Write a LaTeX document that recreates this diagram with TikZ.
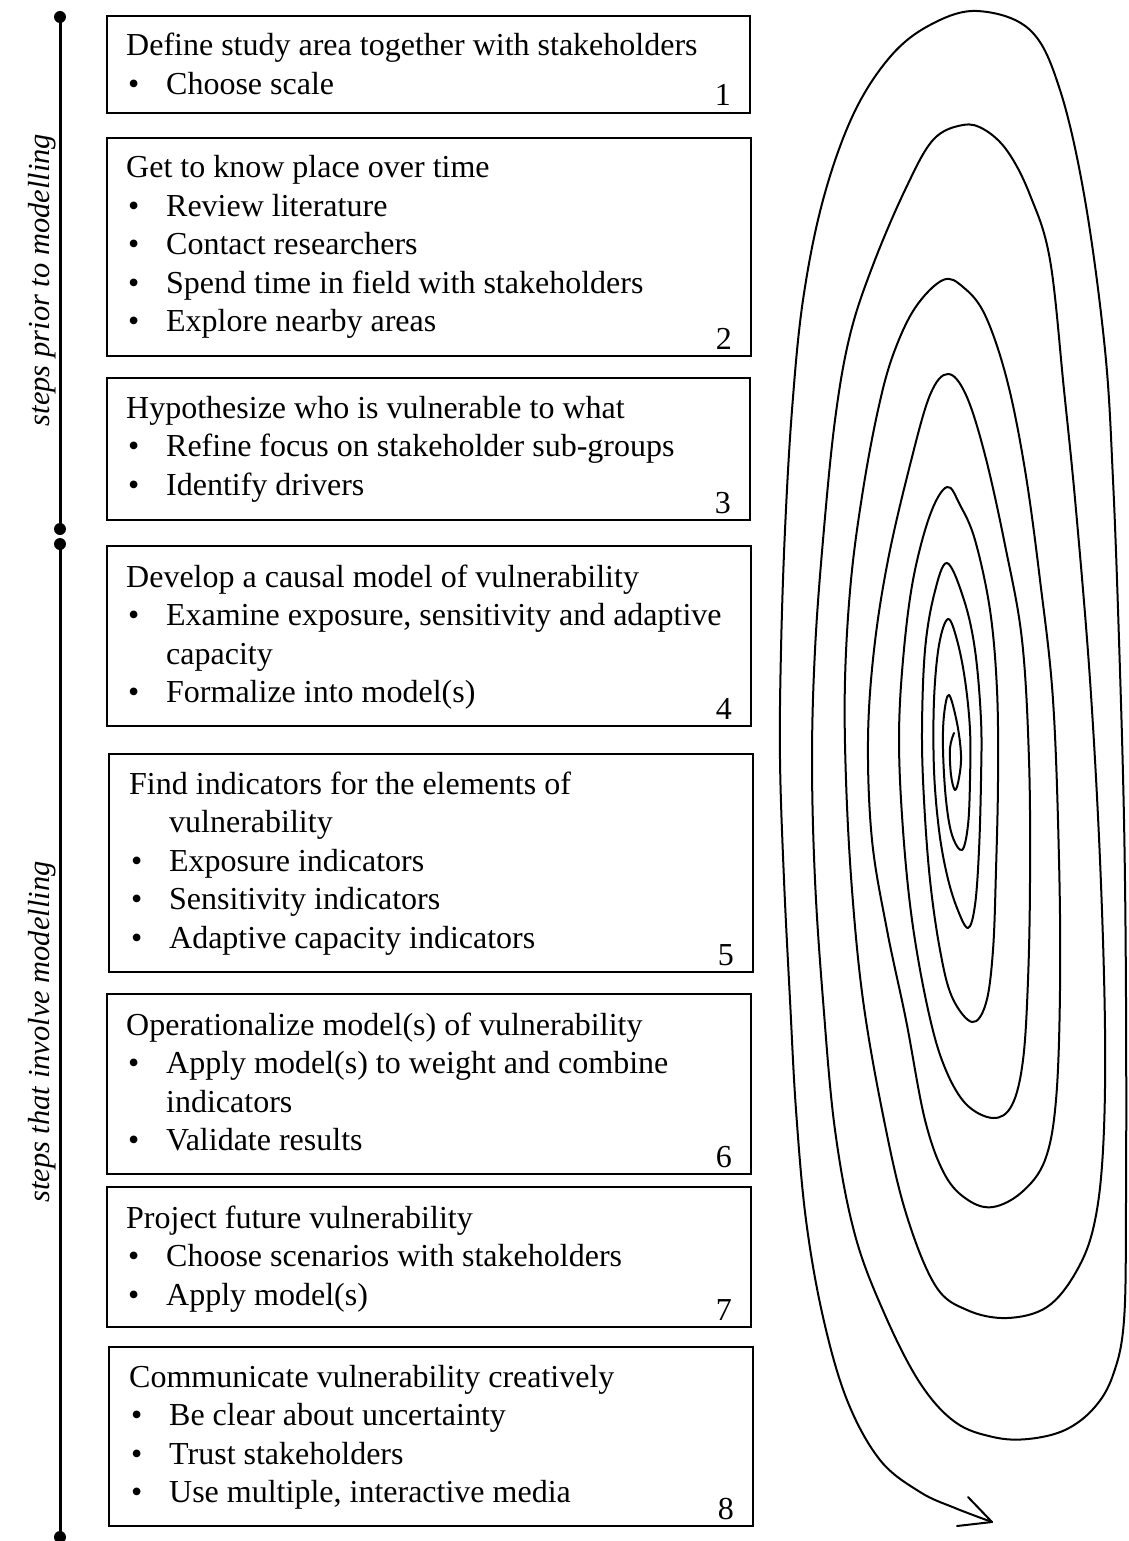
\documentclass[tikz,border=0pt]{standalone}
\usepackage{fontspec}
\setmainfont{Liberation Serif}
\newcommand\Ttl[1]{\par\noindent#1}
\newcommand\Itm[1]{\par\noindent\makebox[40pt][l]{\hspace{2pt}\textbullet}#1}
\newcommand\Cnt[1]{\par\noindent\hspace*{40pt}#1}
\newcommand\Lines[1]{\vtop{\hsize=640pt\parindent=0pt\parskip=0pt\fontsize{32}{38.5}\selectfont\rightskip=0pt plus 1fil #1}}
\begin{document}
\begin{tikzpicture}[x=1pt,y=-1pt,
  font=\fontsize{32}{38.5}\selectfont,
  stepbox/.style={draw, line width=2pt, rectangle, inner sep=0pt, anchor=north west},
  boxtxt/.style={anchor=base west, inner sep=0pt},
  num/.style={anchor=base east, inner sep=0pt},
  side/.style={rotate=90, anchor=base, inner sep=0pt, font=\fontsize{30.5}{36}\selectfont\itshape},
  dot/.style={circle, fill, inner sep=0pt, minimum size=12pt},
  spiral/.style={line width=2pt, line join=round, line cap=round},
  tline/.style={line width=3pt}]
\useasboundingbox (0,0) rectangle (1128,1541);

% timeline
\node[dot] (d1) at (60,17) {};
\node[dot] (d2) at (60,529) {};
\node[dot] (d3) at (60,544) {};
\node[dot] (d4) at (60,1537) {};
\draw[tline] (d1.center) -- (d2.center);
\draw[tline] (d3.center) -- (d4.center);
\node[side] (s1) at (49,280) {steps prior to modelling};
\node[side] (s2) at (49,1032) {steps that involve modelling};

% boxes
\node[stepbox, minimum width=643pt, minimum height=97pt] (b1) at (106,15) {};
\node[stepbox, minimum width=644pt, minimum height=218pt] (b2) at (106,137) {};
\node[stepbox, minimum width=643pt, minimum height=142pt] (b3) at (106,377) {};
\node[stepbox, minimum width=644pt, minimum height=180pt] (b4) at (106,545) {};
\node[stepbox, minimum width=644pt, minimum height=218pt] (b5) at (108,753) {};
\node[stepbox, minimum width=644pt, minimum height=180pt] (b6) at (106,993) {};
\node[stepbox, minimum width=644pt, minimum height=140pt] (b7) at (106,1186) {};
\node[stepbox, minimum width=644pt, minimum height=179pt] (b8) at (108,1346) {};

\node[boxtxt] (t1) at ([xshift=20pt,yshift=-41pt]b1.north west) {\Lines{%
  \Ttl{Define study area together with stakeholders}\Itm{Choose scale}}};
\node[boxtxt] (t2) at ([xshift=20pt,yshift=-41pt]b2.north west) {\Lines{%
  \Ttl{Get to know place over time}\Itm{Review literature}\Itm{Contact researchers}%
  \Itm{Spend time in field with stakeholders}\Itm{Explore nearby areas}}};
\node[boxtxt] (t3) at ([xshift=20pt,yshift=-41pt]b3.north west) {\Lines{%
  \Ttl{Hypothesize who is vulnerable to what}\Itm{Refine focus on stakeholder sub-groups}%
  \Itm{Identify drivers}}};
\node[boxtxt] (t4) at ([xshift=20pt,yshift=-42pt]b4.north west) {\Lines{%
  \Ttl{Develop a causal model of vulnerability}\Itm{Examine exposure, sensitivity and adaptive}%
  \Cnt{capacity}\Itm{Formalize into model(s)}}};
\node[boxtxt] (t5) at ([xshift=21pt,yshift=-41pt]b5.north west) {\Lines{%
  \Ttl{Find indicators for the elements of}\Cnt{vulnerability}\Itm{Exposure indicators}%
  \Itm{Sensitivity indicators}\Itm{Adaptive capacity indicators}}};
\node[boxtxt] (t6) at ([xshift=20pt,yshift=-42pt]b6.north west) {\Lines{%
  \Ttl{Operationalize model(s) of vulnerability}\Itm{Apply model(s) to weight and combine}%
  \Cnt{indicators}\Itm{Validate results}}};
\node[boxtxt] (t7) at ([xshift=20pt,yshift=-42pt]b7.north west) {\Lines{%
  \Ttl{Project future vulnerability}\Itm{Choose scenarios with stakeholders}\Itm{Apply model(s)}}};
\node[boxtxt] (t8) at ([xshift=21pt,yshift=-41pt]b8.north west) {\Lines{%
  \Ttl{Communicate vulnerability creatively}\Itm{Be clear about uncertainty}%
  \Itm{Trust stakeholders}\Itm{Use multiple, interactive media}}};

\node[num] (n1) at ([xshift=-20pt,yshift=8pt]b1.south east) {1};
\node[num] (n2) at ([xshift=-20pt,yshift=8pt]b2.south east) {2};
\node[num] (n3) at ([xshift=-20pt,yshift=8pt]b3.south east) {3};
\node[num] (n4) at ([xshift=-20pt,yshift=8pt]b4.south east) {4};
\node[num] (n5) at ([xshift=-20pt,yshift=8pt]b5.south east) {5};
\node[num] (n6) at ([xshift=-20pt,yshift=8pt]b6.south east) {6};
\node[num] (n7) at ([xshift=-20pt,yshift=8pt]b7.south east) {7};
\node[num] (n8) at ([xshift=-20pt,yshift=8pt]b8.south east) {8};

% spiral
\coordinate (tip) at (992,1522);
\coordinate (barbA) at (968,1497);
\coordinate (barbB) at (957,1526);
\draw[spiral] plot[smooth, tension=0.6] coordinates {
 (954,733) (950,748) (951,775) (955,790)
 (959,778) (961,755) (957,723) (949,695)
 (944,715) (943,750) (946,800) (952,835) (962,850)
 (968,825) (970,780) (970,730) (965,680) (957,640) (948,619)
 (939,645) (934,700) (934,770) (939,830) (947,875) (957,908) (968,928)
 (975,905) (979,850) (981,780) (981,720) (975,650) (964,600) (947,563)
 (934,595) (925,650) (922,730) (924,800) (930,880) (940,950) (952,997) (972,1022)
 (986,1003) (993,950) (996,870) (998,780) (997,690) (990,610) (975,540) (960,505) (947,487)
 (930,515) (913,580) (903,660) (899,740) (903,830) (912,920) (927,1005) (943,1063) (965,1103) (993,1118)
 (1012,1105) (1023,1060) (1028,980) (1030,880) (1029,760) (1022,640) (1005,545) (985,455) (966,395) (948,374)
 (930,395) (910,465) (888,560) (874,650) (868,740) (872,840) (887,930) (906,1020) (925,1120) (945,1175) (968,1200) (993,1207)
 (1022,1192) (1045,1160) (1056,1100) (1060,990) (1059,860) (1053,700) (1040,580) (1025,470) (1007,380) (985,315) (963,287) (943,280)
 (915,308) (893,355) (878,410) (863,490) (851,580) (845,680) (846,780) (852,890) (863,1000) (882,1110) (905,1210) (935,1285) (967,1310) (1007,1318)
 (1047,1307) (1076,1272) (1094,1225) (1103,1150) (1105,1030) (1100,860) (1090,680) (1076,510) (1064,390) (1050,260) (1030,195) (1008,152) (985,130) (963,125)
 (933,140) (905,190) (873,265) (850,335) (835,420) (823,540) (815,650) (812,760) (815,880) (823,1000) (835,1130) (855,1235) (885,1315) (920,1383) (955,1422) (993,1437) (1028,1439)
 (1065,1430) (1094,1408) (1113,1375) (1124,1320) (1126,1200) (1126,1000) (1124,820) (1119,640) (1113,480) (1105,350) (1085,200) (1060,90) (1030,30) (977,11)
 (930,25) (890,57) (853,115) (823,200) (803,300) (792,410) (785,530) (781,650) (780,760) (784,880) (790,1000) (796,1110) (806,1220) (823,1317) (847,1400) (880,1460) (920,1492) (955,1508) (992,1522)
};
\draw[spiral] (barbA) -- (tip) -- (barbB);
\end{tikzpicture}
\end{document}
